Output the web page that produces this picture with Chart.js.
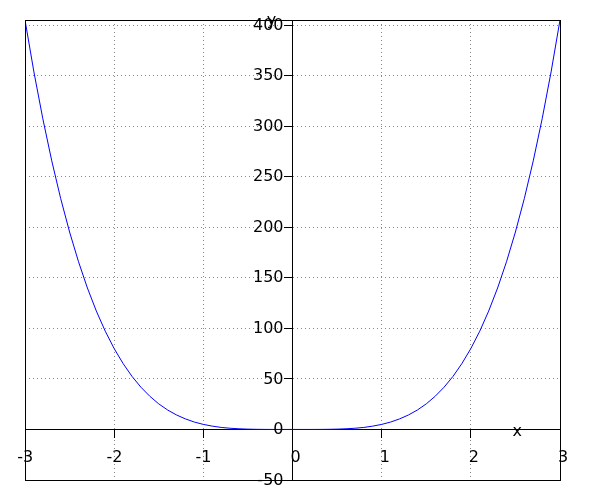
<!DOCTYPE html>
<html>
<head>
<meta charset="utf-8">
<script src="https://cdn.jsdelivr.net/npm/chart.js@4"></script>
<style>
  html, body { margin: 0; padding: 0; background: #fff; }
  #wrap { width: 600px; height: 500px; position: relative; }
</style>
</head>
<body>
<div id="wrap"><canvas id="c"></canvas></div>
<script>
// x positions sampled along the curve
const xValues = [
  -3.0, -2.9, -2.8, -2.7, -2.6, -2.5, -2.4, -2.3, -2.2, -2.1,
  -2.0, -1.9, -1.8, -1.7, -1.6, -1.5, -1.4, -1.3, -1.2, -1.1,
  -1.0, -0.9, -0.8, -0.7, -0.6, -0.5, -0.4, -0.3, -0.2, -0.1,
   0.0,
   0.1,  0.2,  0.3,  0.4,  0.5,  0.6,  0.7,  0.8,  0.9,  1.0,
   1.1,  1.2,  1.3,  1.4,  1.5,  1.6,  1.7,  1.8,  1.9,  2.0,
   2.1,  2.2,  2.3,  2.4,  2.5,  2.6,  2.7,  2.8,  2.9,  3.0
];
// y values
const yValues = [
  405, 353.6, 307.3, 265.7, 228.5, 195.3, 165.9, 139.9, 117.1, 97.2,
  80, 65.2, 52.5, 41.8, 32.8, 25.3, 19.2, 14.3, 10.4, 7.3,
  5, 3.3, 2.0, 1.2, 0.65, 0.31, 0.13, 0.04, 0.01, 0,
  0,
  0, 0.01, 0.04, 0.13, 0.31, 0.65, 1.2, 2.0, 3.3, 5,
  7.3, 10.4, 14.3, 19.2, 25.3, 32.8, 41.8, 52.5, 65.2, 80,
  97.2, 117.1, 139.9, 165.9, 195.3, 228.5, 265.7, 307.3, 353.6, 405
];
const xRange = [-3, 3];
const yRange = [-50, 405];
const xStep = 1;
const yStep = 50;
const xAxisLabel = 'x';
const yAxisLabel = 'y';

const FONT = '"DejaVu Sans", sans-serif';
const FONT_SIZE = 16;
const TICK_LEN = 8;

const framePlugin = {
  id: 'frame',
  afterDraw(chart) {
    const ctx = chart.ctx;
    const a = chart.chartArea;
    const xs = chart.scales.x, ys = chart.scales.y;
    const x0 = xs.getPixelForValue(0);
    const y0 = ys.getPixelForValue(0);
    ctx.save();
    ctx.strokeStyle = '#000';
    ctx.lineWidth = 1;
    const L = Math.round(a.left), T = Math.round(a.top), R = Math.round(a.right), B = Math.round(a.bottom);
    ctx.strokeRect(L + 0.5, T + 0.5, R - L, B - T);
    ctx.fillStyle = '#000';
    ctx.font = FONT_SIZE + 'px ' + FONT;
    // y tick labels, left of the tick marks
    ctx.textAlign = 'right';
    ctx.textBaseline = 'middle';
    ys.ticks.forEach(t => {
      ctx.fillText(t.label, x0 - TICK_LEN - 1, ys.getPixelForValue(t.value) + 0.5);
    });
    // x tick labels: digits start at the tick, minus sign hangs left
    ctx.textBaseline = 'alphabetic';
    xs.ticks.forEach(t => {
      const px = xs.getPixelForValue(t.value);
      const label = String(t.label);
      const digits = label.replace(/^[-\u2212]/, '');
      ctx.textAlign = 'right';
      ctx.fillText(label, px - 2 + ctx.measureText(digits).width, y0 + 33);
    });
    ctx.textAlign = 'center';
    ctx.textBaseline = 'middle';
    ctx.fillText(xAxisLabel, xs.getPixelForValue(2.52), y0 + 2);
    ctx.fillText(yAxisLabel, x0 - 21, a.top + 1);
    ctx.restore();
  }
};

new Chart(document.getElementById('c'), {
  type: 'scatter',
  data: {
    datasets: [{
      data: xValues.map((x, i) => ({ x: x, y: yValues[i] })),
      showLine: true,
      borderColor: '#0000ff',
      borderWidth: 1,
      pointRadius: 0,
      tension: 0,
      fill: false
    }]
  },
  options: {
    responsive: true,
    maintainAspectRatio: false,
    animation: false,
    layout: { padding: { left: 25, right: 40, top: 20, bottom: 20 } },
    plugins: { legend: { display: false }, tooltip: { enabled: false } },
    scales: {
      x: {
        type: 'linear',
        position: { y: 0 },
        min: xRange[0], max: xRange[1],
        ticks: { stepSize: xStep, color: 'rgba(0,0,0,0)', font: { family: FONT, size: FONT_SIZE }, padding: 10, maxRotation: 0, includeBounds: false },
        grid: { color: '#888', tickLength: TICK_LEN, tickColor: '#000', tickBorderDash: [], drawTicks: true },
        border: { display: true, color: '#000', width: 1, dash: [1, 3] }
      },
      y: {
        type: 'linear',
        position: { x: 0 },
        min: yRange[0], max: yRange[1],
        ticks: { stepSize: yStep, color: 'rgba(0,0,0,0)', font: { family: FONT, size: FONT_SIZE }, padding: 2, includeBounds: false },
        grid: { color: '#888', tickLength: TICK_LEN, tickColor: '#000', tickBorderDash: [], drawTicks: true },
        border: { display: true, color: '#000', width: 1, dash: [1, 3] }
      }
    }
  },
  plugins: [framePlugin]
});
</script>
</body>
</html>
